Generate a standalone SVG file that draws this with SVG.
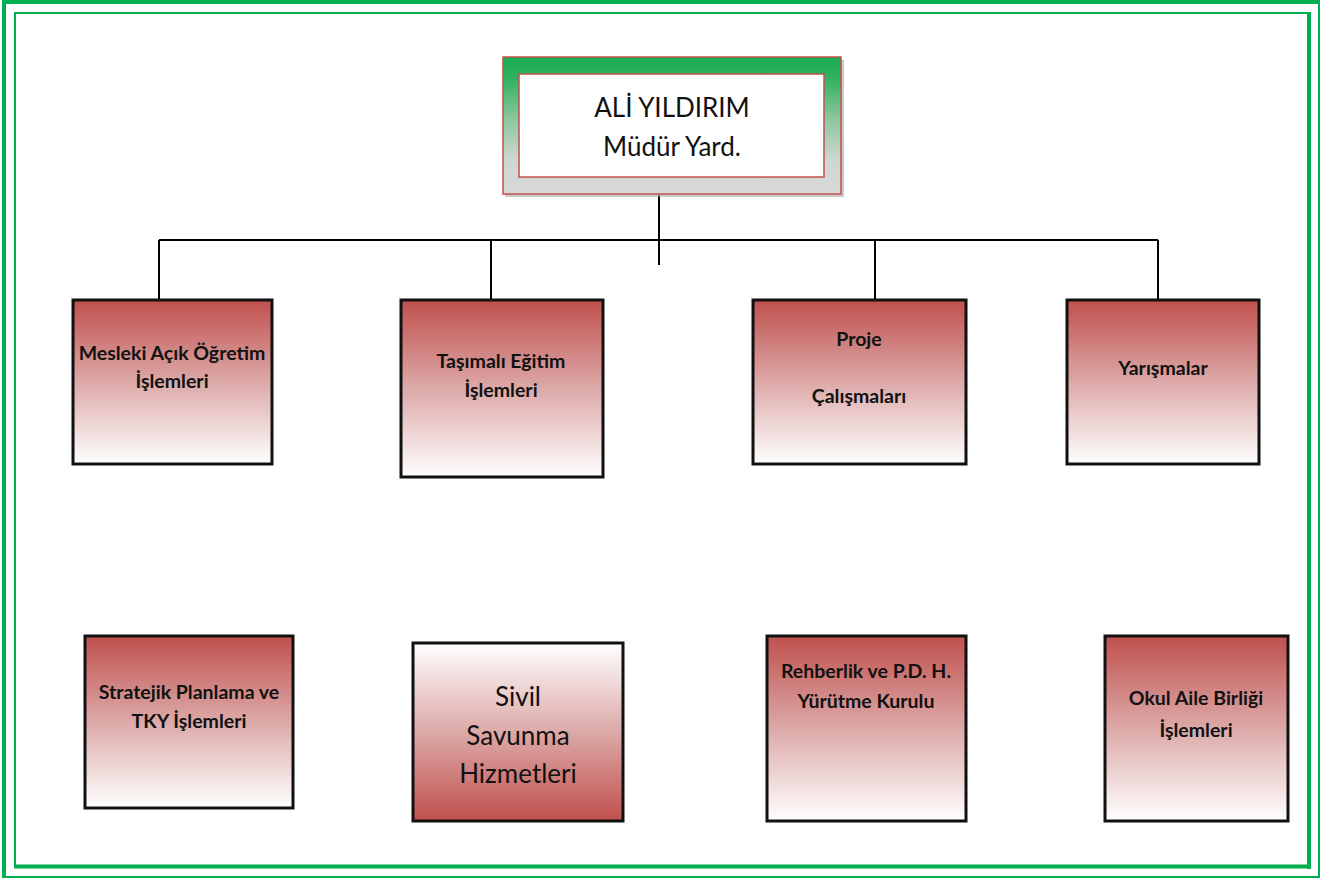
<svg xmlns="http://www.w3.org/2000/svg" width="1335" height="878" viewBox="0 0 1335 878">
<style>
.frame{fill:none;stroke:#00b050;}
.box{stroke:#111;stroke-width:3;}
.lbl{font-family:Lato,"Open Sans","Liberation Sans",sans-serif;font-weight:bold;font-size:19.5px;fill:#111;text-anchor:middle;}
.big{font-family:Lato,"Open Sans","Liberation Sans",sans-serif;font-size:26px;fill:#111;text-anchor:middle;}
.conn{stroke:#000;stroke-width:2;fill:none;}
</style>
<defs>
<linearGradient id="redDown" x1="0" y1="0" x2="0" y2="1">
<stop offset="0" stop-color="#c0504d"/>
<stop offset="0.5" stop-color="#dca9a8"/>
<stop offset="1" stop-color="#ffffff"/>
</linearGradient>
<linearGradient id="redUp" x1="0" y1="1" x2="0" y2="0">
<stop offset="0" stop-color="#c0504d"/>
<stop offset="0.5" stop-color="#dca9a8"/>
<stop offset="1" stop-color="#ffffff"/>
</linearGradient>
<linearGradient id="greenGray" x1="0" y1="0" x2="0" y2="1">
<stop offset="0" stop-color="#19ad52"/>
<stop offset="0.15" stop-color="#2fb15e"/>
<stop offset="0.45" stop-color="#8cc79e"/>
<stop offset="0.75" stop-color="#cdd7d0"/>
<stop offset="1" stop-color="#d9d9d9"/>
</linearGradient>
</defs>
<rect width="1335" height="878" fill="#ffffff"/>
<g id="page-border">
<line class="frame" x1="2" y1="2" x2="1320" y2="2" stroke-width="4"/>
<line class="frame" x1="4" y1="0" x2="4" y2="878" stroke-width="4"/>
<line class="frame" x1="1319" y1="0" x2="1319" y2="878" stroke-width="2"/>
<line class="frame" x1="2" y1="877" x2="1320" y2="877" stroke-width="2"/>
<line class="frame" x1="14" y1="13" x2="1311" y2="13" stroke-width="2"/>
<line class="frame" x1="15" y1="12" x2="15" y2="868" stroke-width="2"/>
<line class="frame" x1="1309" y1="12" x2="1309" y2="869" stroke-width="4"/>
<line class="frame" x1="14" y1="866.5" x2="1311" y2="866.5" stroke-width="4"/>
</g>
<g id="connectors">
<line class="conn" x1="659" y1="195" x2="659" y2="265"/>
<line class="conn" x1="159" y1="240" x2="1158" y2="240"/>
<line class="conn" x1="159" y1="240" x2="159" y2="300"/>
<line class="conn" x1="491" y1="240" x2="491" y2="300"/>
<line class="conn" x1="875" y1="240" x2="875" y2="300"/>
<line class="conn" x1="1158" y1="240" x2="1158" y2="300"/>
</g>
<g id="node-head">
<rect x="505" y="60" width="339" height="137" fill="#a6a6a6" opacity="0.6"/>
<rect x="503" y="57" width="338" height="137" fill="url(#greenGray)" stroke="#c0504d" stroke-width="1.5"/>
<rect x="519" y="74" width="305" height="103" fill="#ffffff" stroke="#c0504d" stroke-width="1.5"/>
<text class="big" x="672" y="117">ALİ YILDIRIM</text>
<text class="big" x="672" y="156">Müdür Yard.</text>
</g>
<g id="node-mesleki">
<rect class="box" x="73" y="300" width="199" height="164" fill="url(#redDown)"/>
<text class="lbl" x="172" y="360">Mesleki Açık Öğretim</text>
<text class="lbl" x="172" y="388">İşlemleri</text>
</g>
<g id="node-tasimali">
<rect class="box" x="401" y="300" width="202" height="177" fill="url(#redDown)"/>
<text class="lbl" x="501" y="368">Taşımalı Eğitim</text>
<text class="lbl" x="501" y="397">İşlemleri</text>
</g>
<g id="node-proje">
<rect class="box" x="753" y="300" width="213" height="164" fill="url(#redDown)"/>
<text class="lbl" x="859" y="346">Proje</text>
<text class="lbl" x="859" y="403">Çalışmaları</text>
</g>
<g id="node-yarisma">
<rect class="box" x="1067" y="300" width="192" height="164" fill="url(#redDown)"/>
<text class="lbl" x="1163" y="375">Yarışmalar</text>
</g>
<g id="node-stratejik">
<rect class="box" x="85" y="636" width="208" height="172" fill="url(#redDown)"/>
<text class="lbl" x="189" y="699">Stratejik Planlama ve</text>
<text class="lbl" x="189" y="728">TKY İşlemleri</text>
</g>
<g id="node-sivil">
<rect class="box" x="413" y="643" width="210" height="178" fill="url(#redUp)"/>
<text class="big" x="518" y="706" font-size="29.5">Sivil</text>
<text class="big" x="518" y="745" font-size="29.5">Savunma</text>
<text class="big" x="518" y="783" font-size="29.5">Hizmetleri</text>
</g>
<g id="node-rehberlik">
<rect class="box" x="767" y="636" width="199" height="185" fill="url(#redDown)"/>
<text class="lbl" x="866" y="678">Rehberlik ve P.D. H.</text>
<text class="lbl" x="866" y="708">Yürütme Kurulu</text>
</g>
<g id="node-okul">
<rect class="box" x="1105" y="636" width="183" height="185" fill="url(#redDown)"/>
<text class="lbl" x="1196" y="705">Okul Aile Birliği</text>
<text class="lbl" x="1196" y="737">İşlemleri</text>
</g>
</svg>
